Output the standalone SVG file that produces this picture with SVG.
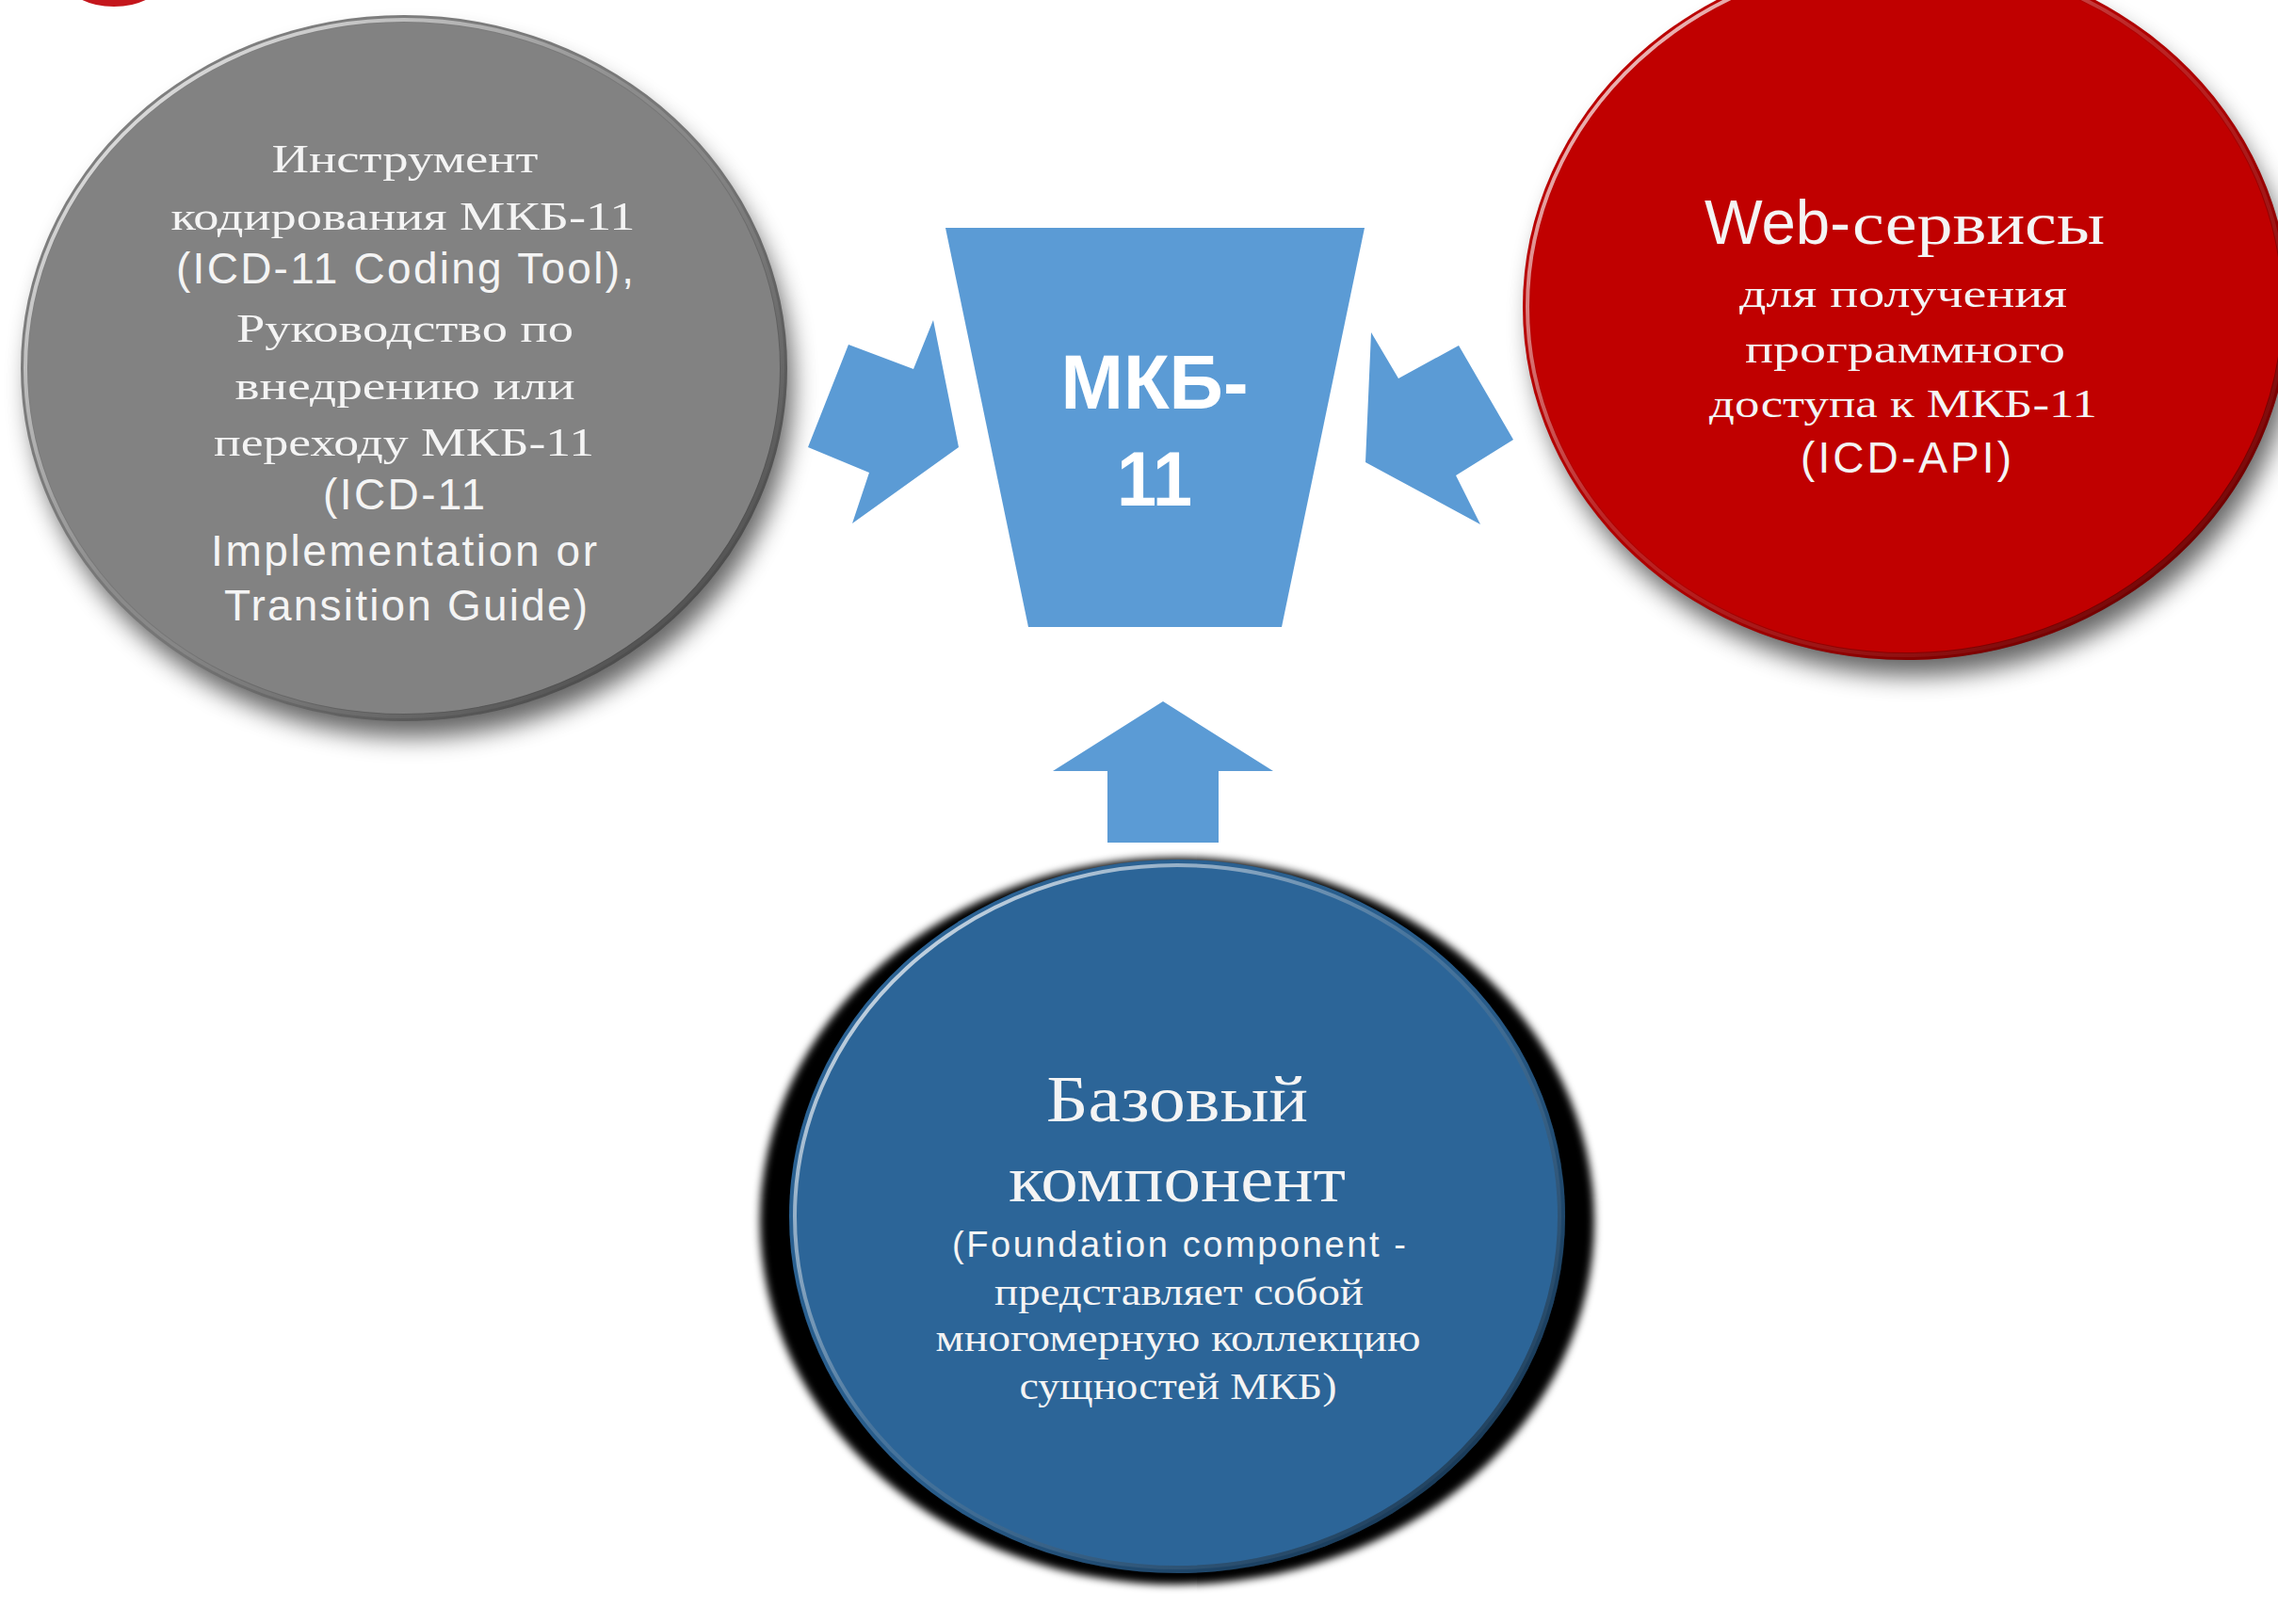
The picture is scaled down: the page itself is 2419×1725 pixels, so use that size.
<svg xmlns="http://www.w3.org/2000/svg" width="2419" height="1725" viewBox="0 0 2419 1725">
  <defs>
    <filter id="blurShadow" x="-20%" y="-20%" width="140%" height="140%">
      <feGaussianBlur stdDeviation="13"/>
    </filter>
    <filter id="blurBlack" x="-10%" y="-10%" width="120%" height="120%">
      <feGaussianBlur stdDeviation="4"/>
    </filter>
    <linearGradient id="rimLight" x1="0" y1="0" x2="1" y2="1">
      <stop offset="0" stop-color="#ffffff" stop-opacity="0.95"/>
      <stop offset="0.45" stop-color="#ffffff" stop-opacity="0.15"/>
      <stop offset="1" stop-color="#ffffff" stop-opacity="0"/>
    </linearGradient>
    <linearGradient id="rimDark" x1="0" y1="0" x2="1" y2="1">
      <stop offset="0" stop-color="#000000" stop-opacity="0"/>
      <stop offset="0.55" stop-color="#000000" stop-opacity="0.1"/>
      <stop offset="1" stop-color="#000000" stop-opacity="0.55"/>
    </linearGradient>
    <style>
      .serif { font-family: "Liberation Serif", "Times New Roman", serif; fill: #f4f4f4; text-anchor: middle; }
      .sans { font-family: "Liberation Sans", Arial, sans-serif; fill: #f4f4f4; text-anchor: middle; }
      .s43 { font-size: 43px; }
      .s46 { font-size: 46px; }
      .s40 { font-size: 40px; }
      .s38 { font-size: 38px; }
      .s70 { font-size: 70px; }
      .shape { fill: #5b9bd5; }
      .hl { fill: none; stroke: url(#rimLight); stroke-width: 4; }
      .dk { fill: none; stroke: url(#rimDark); stroke-width: 8; }
    </style>
  </defs>
  <rect x="0" y="0" width="2419" height="1725" fill="#ffffff"/>

  <g id="decor-top-left">
    <ellipse cx="121" cy="-20" rx="50" ry="27" fill="#c4161c"/>
  </g>

  <g id="node-coding-tool">
    <ellipse cx="437" cy="410" rx="405" ry="373" fill="#000" opacity="0.6" filter="url(#blurShadow)"/>
    <ellipse cx="429" cy="391" rx="407" ry="375" fill="#828282"/>
    <ellipse cx="429" cy="391" rx="403" ry="371" class="dk"/>
    <ellipse cx="429" cy="391" rx="402" ry="370" class="hl"/>
    <text class="serif s43" x="430" y="183" textLength="283" lengthAdjust="spacingAndGlyphs">Инструмент</text>
    <text class="serif s43" x="428" y="244" textLength="493" lengthAdjust="spacingAndGlyphs">кодирования МКБ-11</text>
    <text class="sans s46" x="430" y="301" textLength="486" lengthAdjust="spacing">(ICD-11 Coding Tool),</text>
    <text class="serif s43" x="430" y="363" textLength="358" lengthAdjust="spacingAndGlyphs">Руководство по</text>
    <text class="serif s43" x="430" y="424" textLength="361" lengthAdjust="spacingAndGlyphs">внедрению или</text>
    <text class="serif s43" x="429" y="484" textLength="404" lengthAdjust="spacingAndGlyphs">переходу МКБ-11</text>
    <text class="sans s46" x="429" y="541" textLength="172" lengthAdjust="spacing">(ICD-11</text>
    <text class="sans s46" x="429" y="601" textLength="410" lengthAdjust="spacing">Implementation or</text>
    <text class="sans s46" x="431" y="659" textLength="386" lengthAdjust="spacing">Transition Guide)</text>
  </g>

  <g id="node-web-services">
    <ellipse cx="2032" cy="345" rx="405" ry="373" fill="#000" opacity="0.6" filter="url(#blurShadow)"/>
    <ellipse cx="2024" cy="326" rx="407" ry="375" fill="#c00000"/>
    <ellipse cx="2024" cy="326" rx="403" ry="371" class="dk"/>
    <ellipse cx="2024" cy="326" rx="402" ry="370" class="hl"/>
    <text x="1810" y="259" font-family="Liberation Sans, Arial, sans-serif" font-size="66" fill="#f4f4f4" textLength="155" lengthAdjust="spacingAndGlyphs">Web-</text>
    <text x="1967" y="259" font-family="Liberation Serif, Times New Roman, serif" font-size="64" fill="#f4f4f4" textLength="268" lengthAdjust="spacingAndGlyphs">сервисы</text>
    <text class="serif s43" x="2021" y="326" textLength="348" lengthAdjust="spacingAndGlyphs">для получения</text>
    <text class="serif s43" x="2023" y="385" textLength="340" lengthAdjust="spacingAndGlyphs">программного</text>
    <text class="serif s43" x="2021" y="443" textLength="412" lengthAdjust="spacingAndGlyphs">доступа к МКБ-11</text>
    <text class="sans s46" x="2024" y="502" textLength="224" lengthAdjust="spacing">(ICD-API)</text>
  </g>

  <g id="node-foundation">
    <ellipse cx="1250" cy="1297" rx="443" ry="386" fill="#000" filter="url(#blurBlack)"/>
    <ellipse cx="1250" cy="1292" rx="412" ry="379" fill="#2c6598"/>
    <ellipse cx="1250" cy="1292" rx="408" ry="375" class="dk"/>
    <ellipse cx="1250" cy="1292" rx="406" ry="373" class="hl"/>
    <text class="serif s70" x="1250" y="1191" textLength="278" lengthAdjust="spacingAndGlyphs">Базовый</text>
    <text class="serif s70" x="1250" y="1276" textLength="358" lengthAdjust="spacingAndGlyphs">компонент</text>
    <text class="sans s38" x="1252" y="1335" textLength="482" lengthAdjust="spacing">(Foundation component -</text>
    <text class="serif s40" x="1252" y="1386" textLength="392" lengthAdjust="spacingAndGlyphs">представляет собой</text>
    <text class="serif s40" x="1251" y="1435" textLength="515" lengthAdjust="spacingAndGlyphs">многомерную коллекцию</text>
    <text class="serif s40" x="1251" y="1486" textLength="337" lengthAdjust="spacingAndGlyphs">сущностей МКБ)</text>
  </g>

  <g id="node-icd11">
    <polygon class="shape" points="1004,242 1449,242 1361,666 1092,666"/>
    <text x="1226" y="434" font-family="Liberation Sans, Arial, sans-serif" font-weight="bold" font-size="82" fill="#ffffff" text-anchor="middle" textLength="199" lengthAdjust="spacingAndGlyphs">МКБ-</text>
    <text x="1226" y="537" font-family="Liberation Sans, Arial, sans-serif" font-weight="bold" font-size="82" fill="#ffffff" text-anchor="middle" textLength="80" lengthAdjust="spacingAndGlyphs">11</text>
  </g>

  <g id="connectors">
    <polygon class="shape" points="901,366 970,392 991,340 1018,475 905,556 923,502 858,475"/>
    <polygon class="shape" points="1456,353 1485,402 1549,367 1607,467 1546,505 1572,557 1450,491"/>
    <polygon class="shape" points="1235,745 1352,819 1294,819 1294,895 1176,895 1176,819 1118,819"/>
  </g>
</svg>
